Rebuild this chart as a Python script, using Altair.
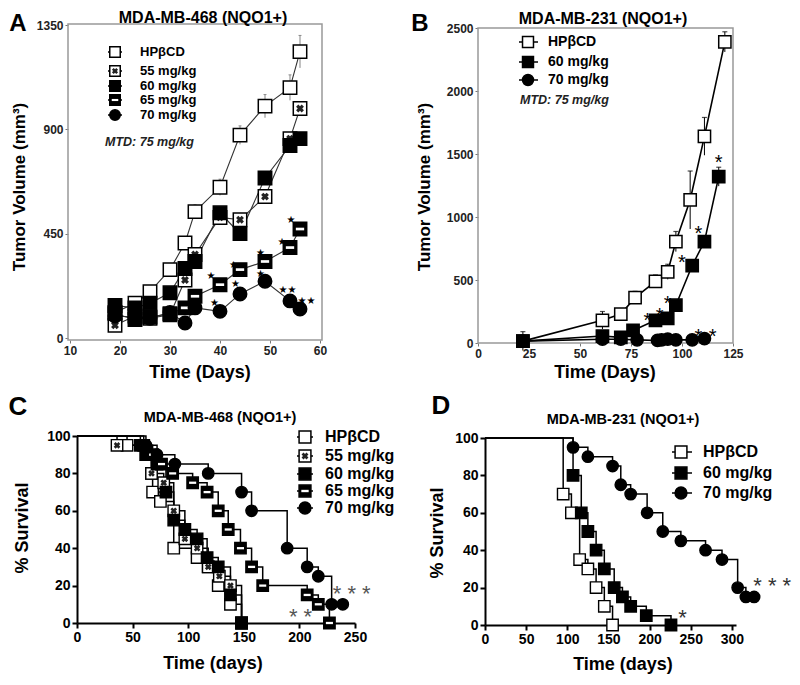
import altair as alt
import pandas as pd

FONT = "Liberation Sans"
W, H = 784, 669
OFF = 8

# ---------------- Panel A : MDA-MB-468 tumor volume ----------------
A_DAYS = [19, 23, 26, 30, 33, 35, 40, 44, 49, 54, 56]
A_HPBCD = [110, 150, 200, 295, 410, 545, 650, 875, 1000, 1080, 1235]
A_HPBCD_ERR = [12, 15, 15, 20, 25, 30, 35, 40, 50, 55, 70]
A_55 = [55, 95, 85, 100, 250, 360, 520, 510, 610, 860, 990]
A_60 = [140, 130, 150, 195, 300, 330, 540, 450, 690, 830, 860]
A_65 = [105, 80, 90, 105, 130, 180, 230, 295, 330, 390, 470]
A_70 = [95, 90, 85, 110, 65, 130, 115, 190, 245, 160, 125]
A_STAR_X = [38.2, 42.7, 48.1, 52.4, 54.2, 38.9, 43.1, 48.1, 53.5, 57.3]
A_STAR_Y = [269, 316, 366, 414, 507, 151, 234, 277, 208, 158]
A_STAR_T = ["★", "★", "★", "★", "★", "★", "★", "★", "★★", "★★"]

# ---------------- Panel B : MDA-MB-231 tumor volume ----------------
B_DAYS_HP = [22, 61, 70, 77, 87, 93, 97, 104, 111, 121]
B_HPBCD = [15, 180, 230, 360, 490, 565, 805, 1135, 1640, 2390]
B_HPBCD_ERR = [75, 70, 40, 50, 50, 60, 80, 230, 150, 80]
B_DAYS_60 = [22, 61, 70, 76, 87, 93, 97, 105, 111, 118]
B_60 = [15, 55, 45, 100, 180, 195, 300, 615, 805, 1320]
B_60_ERR = [0, 0, 0, 0, 0, 0, 0, 30, 0, 75]
B_DAYS_70 = [22, 61, 70, 78, 88, 90, 93, 97, 105, 111]
B_70 = [15, 30, 30, 25, 20, 25, 30, 25, 25, 35]
B_STAR_X = [83, 89, 93, 100, 108, 118, 108, 115]
B_STAR_Y = [222, 262, 357, 685, 912, 1476, 95, 95]

# ---------------- Panel C : MDA-MB-468 survival ----------------
C_HP_T = [0, 45, 67, 68, 75, 87, 108, 118, 127, 138, 148]
C_HP_S = [100, 95, 80, 70, 65, 40, 35, 30, 20, 10, 0]
C_55_T = [0, 36, 62, 67, 78, 87, 97, 108, 118, 128, 138, 148]
C_55_S = [100, 95, 90, 80, 75, 60, 45, 40, 30, 25, 20, 0]
C_60_T = [0, 57, 62, 72, 80, 87, 97, 108, 117, 127, 138, 148]
C_60_S = [100, 95, 90, 85, 70, 55, 50, 45, 35, 30, 15, 0]
C_65_T = [0, 60, 68, 76, 86, 104, 117, 127, 136, 147, 157, 167, 207, 217, 227]
C_65_S = [100, 95, 90, 85, 80, 75, 70, 60, 50, 40, 30, 20, 15, 10, 0]
C_70_T = [0, 62, 72, 88, 118, 148, 157, 189, 207, 217, 229, 239]
C_70_S = [100, 95, 90, 85, 80, 70, 60, 40, 30, 25, 10, 10]
C_STAR_X = [247, 201]
C_STAR_Y = [17, 5]
C_STAR_T = ["* * *", "* *"]

# ---------------- Panel D : MDA-MB-231 survival ----------------
D_HP_T = [0, 95, 105, 115, 125, 135, 145, 155]
D_HP_S = [100, 70, 60, 35, 30, 20, 10, 0]
D_60_T = [0, 107, 117, 125, 135, 145, 157, 167, 177, 196, 226]
D_60_S = [100, 80, 60, 50, 40, 30, 20, 15, 10, 5, 0]
D_70_T = [0, 107, 125, 155, 165, 177, 197, 216, 238, 268, 288, 307, 317, 327]
D_70_S = [100, 95, 90, 85, 75, 70, 60, 50, 45, 40, 35, 20, 15, 15]
D_STAR_X = [240, 349]
D_STAR_Y = [7, 24]
D_STAR_T = ["*", "* * *"]

NAMES = ["HPβCD", "55 mg/kg", "60 mg/kg", "65 mg/kg", "70 mg/kg"]
KIND = {"HPβCD": "open", "55 mg/kg": "hatch", "60 mg/kg": "filled",
        "65 mg/kg": "bar", "70 mg/kg": "circle"}

ONE = pd.DataFrame({"k": [0]})


def symbol(chart, kind, size, enc, sw=1.5):
    out = []
    if kind == "circle":
        out.append(chart.mark_point(shape="circle", filled=True, fill="black", stroke="black",
                                    strokeWidth=sw, size=size, opacity=1).encode(**enc))
        return out
    fill = "white" if kind in ("open", "hatch") else "black"
    out.append(chart.mark_point(shape="square", filled=True, fill=fill, stroke="black",
                                strokeWidth=sw, size=size, opacity=1).encode(**enc))
    if kind == "hatch":
        out.append(chart.mark_point(shape="cross", angle=45, filled=True, fill="#222",
                                    size=size * 0.35, opacity=1).encode(**enc))
    if kind == "bar":
        out.append(chart.mark_point(shape="M-0.62,-0.2L0.62,-0.2L0.62,0.2L-0.62,0.2Z",
                                    filled=True, fill="white", strokeWidth=0,
                                    size=size, opacity=1).encode(**enc))
    return out


def txt(s, x, y, size, weight="bold", style="normal", angle=0, align="center",
        baseline="middle", color="black"):
    return alt.Chart(ONE).mark_text(text=s, fontSize=size, font=FONT, fontWeight=weight,
                                    fontStyle=style, angle=angle, align=align,
                                    baseline=baseline, color=color).encode(
        x=alt.value(x - OFF), y=alt.value(y - OFF))


def legend(items, sx, x1, x2, tx, ys, size, fsize, sw=1.5):
    out = []
    for name, y in zip(items, ys):
        out.append(alt.Chart(ONE).mark_rule(color="black", strokeWidth=1.5).encode(
            x=alt.value(x1 - OFF), x2=alt.value(x2 - OFF), y=alt.value(y - OFF)))
        out += symbol(alt.Chart(ONE), KIND[name], size,
                      dict(x=alt.value(sx - OFF), y=alt.value(y - OFF)), sw)
        out.append(txt(name, tx, y, fsize, align="left"))
    return out


def axis(vals, orient, offset, fs, domain, tsize, twidth, tcolor, lcolor):
    return alt.Axis(values=vals, orient=orient, offset=offset, grid=False, title=None,
                    format="d",
                    domain=domain, domainColor="black", domainWidth=2,
                    ticks=True, tickSize=tsize, tickWidth=twidth, tickColor=tcolor,
                    labelFont=FONT, labelFontSize=fs, labelFontWeight="bold",
                    labelColor=lcolor, labelFlush=False, labelOverlap=False, labelPadding=2)


def long(xs_list, ys_list, names):
    rows = []
    for xs, ys, n in zip(xs_list, ys_list, names):
        for a, b in zip(xs, ys):
            rows.append({"x": a, "y": b, "g": n})
    return pd.DataFrame(rows)


# ---------------- Panel A chart ----------------
sxA = alt.Scale(domain=[10, 60], range=[62, 312], nice=False, zero=False)
syA = alt.Scale(domain=[0, 1350], range=[330, 17], nice=False, zero=False)
axAx = axis([10, 20, 30, 40, 50, 60], "bottom", 332 - H, 12, False, 3, 1, "#777", "#222")
axAy = axis([0, 450, 900, 1350], "left", -60, 12, False, 3, 1, "#777", "#222")
xA = alt.X("x:Q", scale=sxA, axis=axAx)
yA = alt.Y("y:Q", scale=syA, axis=axAy)
dfA = long([A_DAYS] * 5, [A_HPBCD, A_55, A_60, A_65, A_70], NAMES)
errA = pd.DataFrame({"x": A_DAYS, "lo": [v - e for v, e in zip(A_HPBCD, A_HPBCD_ERR)],
                     "hi": [v + e for v, e in zip(A_HPBCD, A_HPBCD_ERR)]})
starA = pd.DataFrame({"x": A_STAR_X, "y": A_STAR_Y, "t": A_STAR_T})

layA = [alt.Chart(ONE).mark_rect(filled=False, stroke="#999", strokeWidth=1.5).encode(
    x=alt.value(60), x2=alt.value(314), y=alt.value(16), y2=alt.value(332))]
layA.append(alt.Chart(dfA).mark_line(color="#333", strokeWidth=1.1).encode(x=xA, y=yA, detail="g:N"))
layA.append(alt.Chart(errA).mark_rule(color="#666", strokeWidth=0.8).encode(
    x=xA, y=alt.Y("lo:Q", scale=syA, axis=axAy), y2="hi:Q"))
layA.append(alt.Chart(errA).mark_tick(orient="horizontal", size=3, thickness=1, color="#666").encode(
    x=xA, y=alt.Y("hi:Q", scale=syA, axis=axAy)))
for n in NAMES:
    layA += symbol(alt.Chart(dfA).transform_filter(alt.datum.g == n), KIND[n], 180,
                   dict(x=xA, y=yA), 1.5)
layA.append(alt.Chart(starA).mark_text(fontSize=10, font="DejaVu Sans", color="black").encode(
    x=xA, y=yA, text="t:N"))
panelA = alt.layer(*layA)

# ---------------- Panel B chart ----------------
sxB = alt.Scale(domain=[0, 125], range=[470, 725], nice=False, zero=False)
syB = alt.Scale(domain=[0, 2500], range=[335, 20], nice=False, zero=False)
axBx = axis([0, 25, 50, 75, 100, 125], "bottom", 335 - H, 12, False, 3, 1, "#777", "#222")
axBy = axis([0, 500, 1000, 1500, 2000, 2500], "left", -470, 12, False, 3, 1, "#777", "#222")
xB = alt.X("x:Q", scale=sxB, axis=axBx)
yB = alt.Y("y:Q", scale=syB, axis=axBy)
dfB = long([B_DAYS_HP, B_DAYS_60, B_DAYS_70], [B_HPBCD, B_60, B_70],
           ["HPβCD", "60 mg/kg", "70 mg/kg"])
errB = pd.DataFrame({"x": B_DAYS_HP + B_DAYS_60,
                     "lo": [v - e for v, e in zip(B_HPBCD, B_HPBCD_ERR)] + [v - e for v, e in zip(B_60, B_60_ERR)],
                     "hi": [v + e for v, e in zip(B_HPBCD, B_HPBCD_ERR)] + [v + e for v, e in zip(B_60, B_60_ERR)]})
starB = pd.DataFrame({"x": B_STAR_X, "y": B_STAR_Y})

layB = [alt.Chart(ONE).mark_rect(filled=False, stroke="#999", strokeWidth=1.5).encode(
    x=alt.value(470), x2=alt.value(725), y=alt.value(20), y2=alt.value(335))]
layB.append(alt.Chart(dfB).mark_line(color="black", strokeWidth=1.6).encode(x=xB, y=yB, detail="g:N"))
layB.append(alt.Chart(errB).mark_rule(color="black", strokeWidth=1).encode(
    x=xB, y=alt.Y("lo:Q", scale=syB, axis=axBy), y2="hi:Q"))
layB.append(alt.Chart(errB).mark_tick(orient="horizontal", size=5, thickness=1.2, color="black").encode(
    x=xB, y=alt.Y("hi:Q", scale=syB, axis=axBy)))
for n in ["HPβCD", "60 mg/kg", "70 mg/kg"]:
    layB += symbol(alt.Chart(dfB).transform_filter(alt.datum.g == n), KIND[n], 150,
                   dict(x=xB, y=yB), 1.5)
layB.append(alt.Chart(starB).mark_text(text="*", fontSize=20, font=FONT, dy=6, color="black").encode(
    x=xB, y=yB))
panelB = alt.layer(*layB)

# ---------------- Panel C chart ----------------
sxC = alt.Scale(domain=[0, 250], range=[69, 347], nice=False, zero=False)
syC = alt.Scale(domain=[0, 100], range=[615, 428], nice=False, zero=False)
xC = alt.X("x:Q", scale=sxC,
           axis=axis([0, 50, 100, 150, 200, 250], "bottom", 615 - H, 14, True, 5, 2, "black", "black"))
yC = alt.Y("y:Q", scale=syC,
           axis=axis([0, 20, 40, 60, 80, 100], "left", -69, 14, True, 5, 2, "black", "black"))
dfC = long([C_HP_T, C_55_T, C_60_T, C_65_T, C_70_T],
           [C_HP_S, C_55_S, C_60_S, C_65_S, C_70_S], NAMES)
starC = pd.DataFrame({"x": C_STAR_X, "y": C_STAR_Y, "t": C_STAR_T})
layC = [alt.Chart(dfC).mark_line(interpolate="step-after", color="black", strokeWidth=1.5).encode(
    x=xC, y=yC, detail="g:N")]
for n in NAMES:
    layC += symbol(alt.Chart(dfC).transform_filter((alt.datum.g == n) & (alt.datum.x > 0)),
                   KIND[n], 130, dict(x=xC, y=yC), 1.4)
layC.append(alt.Chart(starC).mark_text(fontSize=22, font=FONT, dy=3, color="#555").encode(
    x=xC, y=yC, text="t:N"))
panelC = alt.layer(*layC)

# ---------------- Panel D chart ----------------
sxD = alt.Scale(domain=[0, 305], range=[477, 728], nice=False, zero=False)
syD = alt.Scale(domain=[0, 100], range=[617, 430], nice=False, zero=False)
xD = alt.X("x:Q", scale=sxD,
           axis=axis([0, 50, 100, 150, 200, 250, 300], "bottom", 617 - H, 14, True, 5, 2, "black", "black"))
yD = alt.Y("y:Q", scale=syD,
           axis=axis([0, 20, 40, 60, 80, 100], "left", -477, 14, True, 5, 2, "black", "black"))
dfD = long([D_HP_T, D_60_T, D_70_T], [D_HP_S, D_60_S, D_70_S], ["HPβCD", "60 mg/kg", "70 mg/kg"])
starD = pd.DataFrame({"x": D_STAR_X, "y": D_STAR_Y, "t": D_STAR_T})
layD = [alt.Chart(dfD).mark_line(interpolate="step-after", color="black", strokeWidth=1.5).encode(
    x=xD, y=yD, detail="g:N")]
for n in ["HPβCD", "60 mg/kg", "70 mg/kg"]:
    layD += symbol(alt.Chart(dfD).transform_filter((alt.datum.g == n) & (alt.datum.x > 0)),
                   KIND[n], 130, dict(x=xD, y=yD), 1.4)
layD.append(alt.Chart(starD).mark_text(fontSize=22, font=FONT, dy=6, color="#333").encode(
    x=xD, y=yD, text="t:N"))
panelD = alt.layer(*layD)

# ---------------- annotations ----------------
ann = []
ann.append(txt("A", 18, 24, 24))
ann.append(txt("B", 420, 24, 24))
ann.append(txt("C", 18, 407, 26))
ann.append(txt("D", 441, 406, 26))
ann.append(txt("MDA-MB-468 (NQO1+)", 203, 18, 16))
ann.append(txt("MDA-MB-231 (NQO1+)", 603, 19, 16))
ann.append(txt("MDA-MB-468 (NQO1+)", 220, 418, 14.5))
ann.append(txt("MDA-MB-231 (NQO1+)", 623, 420, 14.5))
ann.append(txt("Tumor Volume (mm³)", 20, 187, 17, angle=270))
ann.append(txt("Tumor Volume (mm³)", 425, 187, 17, angle=270))
ann.append(txt("Time (Days)", 200, 373, 18))
ann.append(txt("Time (Days)", 605, 373, 18))
ann.append(txt("% Survival", 23, 528, 18, angle=270))
ann.append(txt("% Survival", 438, 533, 18, angle=270))
ann.append(txt("Time (days)", 213, 664, 18))
ann.append(txt("Time (days)", 623, 665, 18))
ann.append(txt("MTD: 75 mg/kg", 105, 142, 12.5, style="italic", align="left", color="#222"))
ann.append(txt("MTD: 75 mg/kg", 520, 100, 12.5, style="italic", align="left", color="#222"))
ann += legend(NAMES, 115, 108, 122, 140, [52, 71, 86, 100, 115], 110, 13)
ann += legend(["HPβCD", "60 mg/kg", "70 mg/kg"], 528, 519, 538, 548, [42, 62, 80], 120, 14)
ann += legend(NAMES, 305, 297, 313, 325, [437, 456, 474, 491, 508], 140, 16)
ann += legend(["HPβCD", "60 mg/kg", "70 mg/kg"], 681, 672, 692, 703, [452, 473, 493], 140, 16)
annot = alt.layer(*ann)

chart = alt.layer(panelA, panelB, panelC, panelD, annot).resolve_scale(
    x="independent", y="independent").properties(
    width=W, height=H, autosize=alt.AutoSizeParams(type="none"), padding=0
).configure_view(stroke=None).configure_axis(grid=False)

chart.save("out.html", embed_options={"renderer": "svg", "actions": False})
